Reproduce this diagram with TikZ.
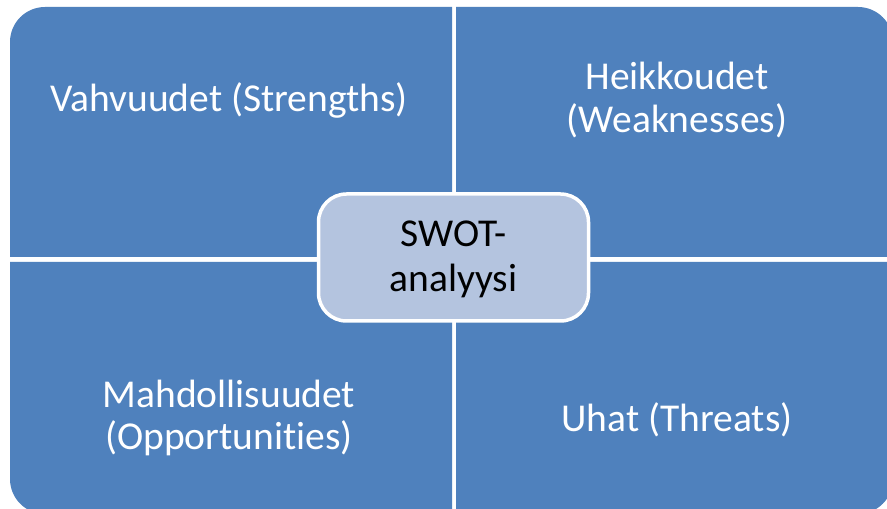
\documentclass[tikz,border=0pt]{standalone}
\usepackage{fontspec}
\setmainfont{Carlito}[Ligatures=NoCommon]
\definecolor{quadblue}{RGB}{79,129,189}
\definecolor{centerfill}{RGB}{180,196,223}
\tikzset{
  quad/.style={fill=quadblue},
  qtext/.style={anchor=base, text=white, inner sep=0pt, font=\fontsize{39.5}{48}\selectfont},
  ctext/.style={anchor=base, text=black, inner sep=0pt, font=\fontsize{39.5}{48}\selectfont},
  centerbox/.style={draw=white, line width=3.5pt, fill=centerfill, rounded corners=28pt,
    minimum width=270pt, minimum height=127pt, inner sep=0pt}
}
\begin{document}
\begin{tikzpicture}[x=1pt,y=1pt]
\useasboundingbox (0,0) rectangle (887,509);
\fill[white] (0,0) rectangle (887,509);
\begin{scope}
\clip (0,0) rectangle (887,509);
% top-left
\fill[quad] (452,252) -- (10,252) -- (10,467) arc[start angle=180,end angle=90,radius=35] -- (452,502) -- cycle;
% top-right
\fill[quad] (456,252) -- (456,502) -- (858,502) arc[start angle=90,end angle=0,radius=35] -- (893,252) -- cycle;
% bottom-left
\fill[quad] (452,247) -- (10,247) -- (10,30) arc[start angle=180,end angle=270,radius=35] -- (452,-5) -- cycle;
% bottom-right
\fill[quad] (456,247) -- (893,247) -- (893,30) arc[start angle=0,end angle=-90,radius=35] -- (456,-5) -- cycle;
\end{scope}
% quadrant texts
\node[qtext] (s1) at (229,397) {Vahvuudet (Strengths)};
\node[qtext] (w1) at (677,419) {Heikkoudet};
\node[qtext] (w2) at (677,376) {(Weaknesses)};
\node[qtext] (o1) at (229,101) {Mahdollisuudet};
\node[qtext] (o2) at (229,59) {(Opportunities)};
\node[qtext] (t1) at (677,77) {Uhat (Threats)};
% center
\node[centerbox] (swot) at (453.5,251.5) {};
\node[ctext] (c1) at (453.5,262) {SWOT-};
\node[ctext] (c2) at (453.5,217) {analyysi};
\end{tikzpicture}
\end{document}
